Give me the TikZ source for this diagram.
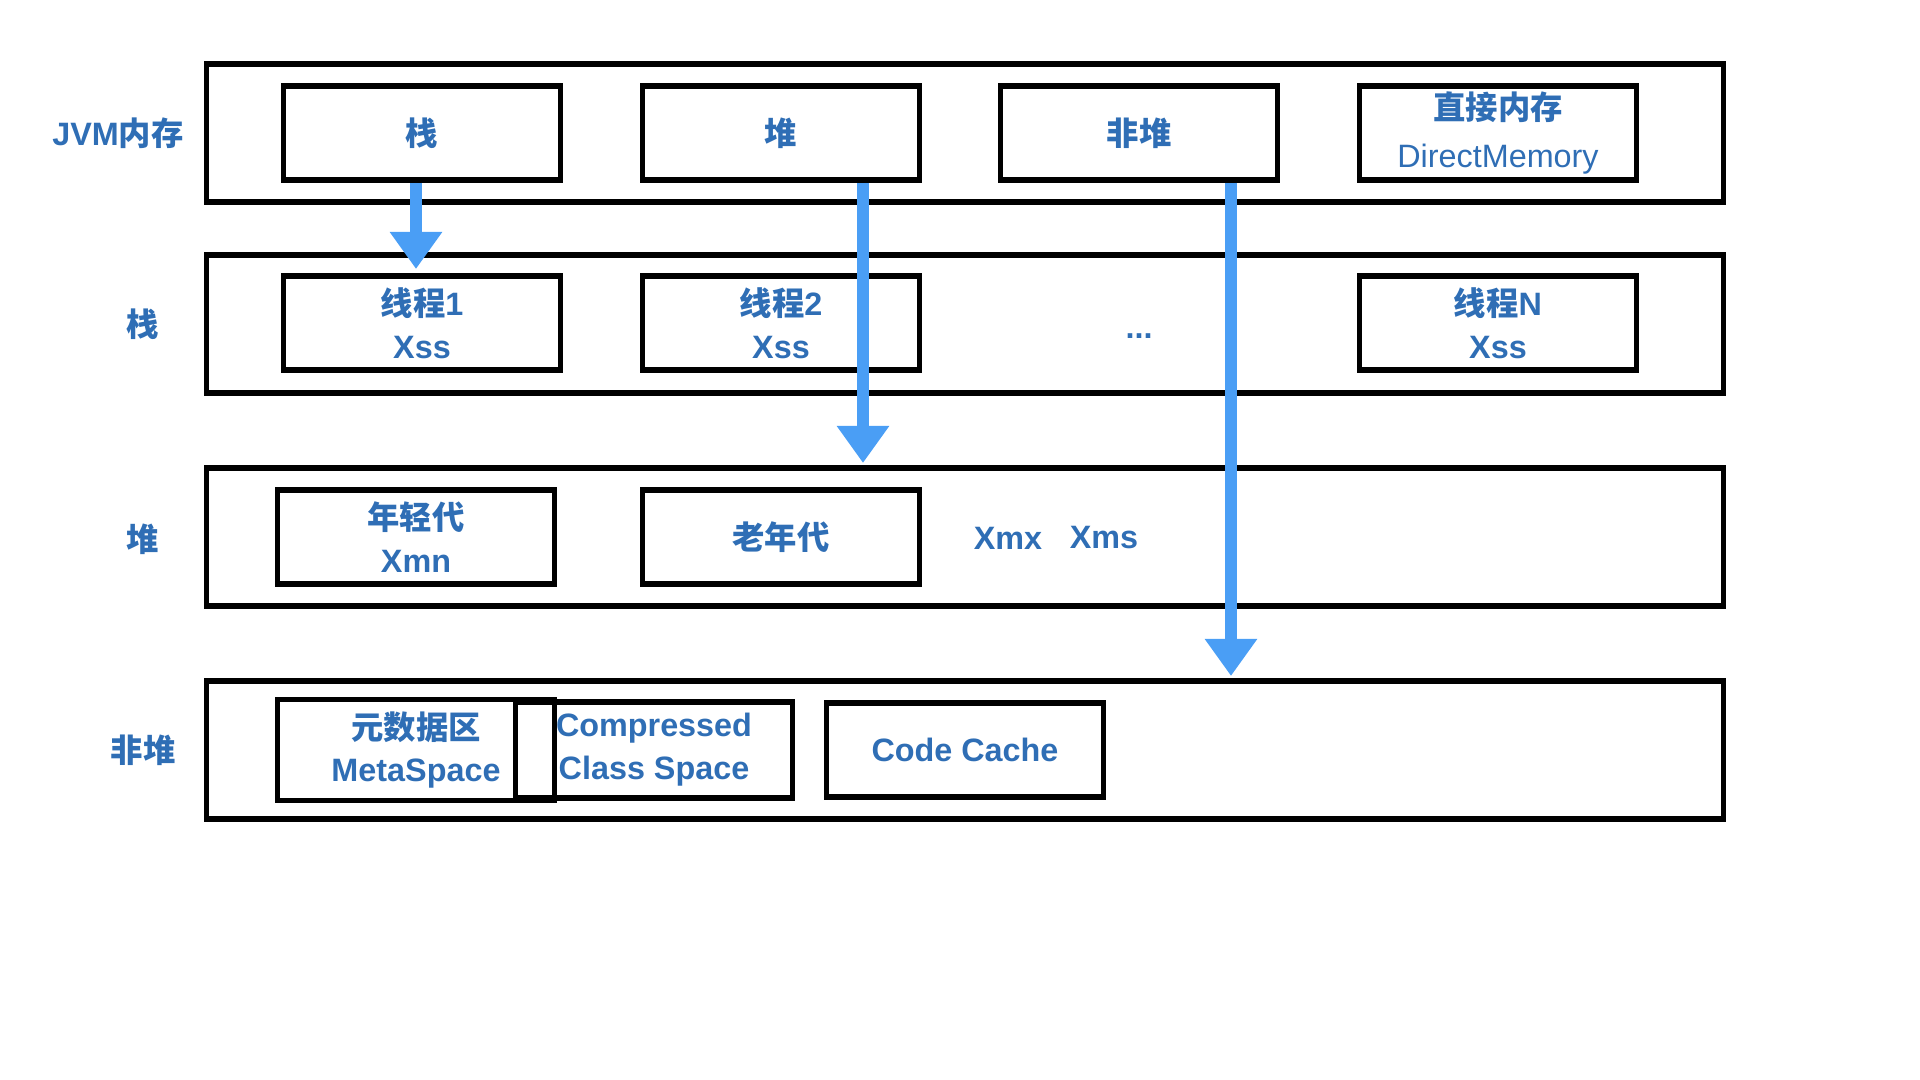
\documentclass[tikz,border=0pt]{standalone}
\usepackage{fontspec}
\setmainfont{Liberation Sans}
\newfontfamily\cjk{Noto Sans CJK SC}
\usetikzlibrary{arrows.meta}
\definecolor{labelblue}{HTML}{2F6EB5}
\definecolor{arrowblue}{HTML}{4A9EF5}
\begin{document}
\begin{tikzpicture}[x=0.01cm, y=-0.01cm,
		row/.style={draw, line width=1.6pt, minimum width=15.16cm, minimum height=1.38cm},
		cell/.style={draw, line width=1.6pt, minimum width=2.77cm, minimum height=0.94cm, align=center, text=labelblue, font=\fontsize{9.2}{12.2}\selectfont\bfseries},
		side/.style={text=labelblue, font=\fontsize{9.2}{12.2}\selectfont\bfseries},
		flow/.style={draw=arrowblue, line width=0.12cm, -{Triangle[width=0.50cm, length=0.37cm]}, arrowblue}]
		
		\useasboundingbox (0,0) rectangle (1920,1080);
		
		\node[row] (rjvm) at (965,133) {};
		\node[row] (rstack) at (965,324) {};
		\node[row] (rheap) at (965,537) {};
		\node[row] (rnonheap) at (965,750) {};
		
		\node[side] (ljvm) at (118,133) {JVM{\cjk 内存}};
		\node[side] (lstack) at (143,324) {\cjk 栈};
		\node[side] (lheap) at (143,539) {\cjk 堆};
		\node[side] (lnonheap) at (143,750) {\cjk 非堆};
		
		\node[cell] (stack) at (422,133) {\cjk 栈};
		\node[cell] (heap) at (781,133) {\cjk 堆};
		\node[cell] (nonheap) at (1139,133) {\cjk 非堆};
		\node[cell, inner ysep=0pt] (direct) at (1498,133) {{\cjk 直接内存}\\[1.6pt]\mdseries DirectMemory};
		
		\node[cell] (t1) at (422,323) {{\cjk 线程}1\\Xss};
		\node[cell] (t2) at (781,323) {{\cjk 线程}2\\Xss};
		\node[side] (dots) at (1139,336) {...};
		\node[cell] (tn) at (1498,323) {{\cjk 线程}N\\Xss};
		
		\node[cell] (young) at (416,537) {{\cjk 年轻代}\\Xmn};
		\node[cell] (old) at (781,537) {\cjk 老年代};
		\node[side] (xmx) at (1008,538) {Xmx};
		\node[side] (xms) at (1104,538) {Xms};
		
		\node[cell] (meta) at (416,750) {{\cjk 元数据区}\\MetaSpace};
		\node[cell] (ccs) at (654,750) {Compressed\\Class Space};
		\node[cell] (codecache) at (965,750) {Code Cache};
		
		\coordinate (tip1) at (416,269);
		\coordinate (tip2) at (863,463);
		\coordinate (tip3) at (1231,676);
		
		\draw[flow] (stack.south -| tip1) -- (tip1);
		\draw[flow] (heap.south -| tip2) -- (tip2);
		\draw[flow] (nonheap.south -| tip3) -- (tip3);
		
	\end{tikzpicture}
\end{document}
